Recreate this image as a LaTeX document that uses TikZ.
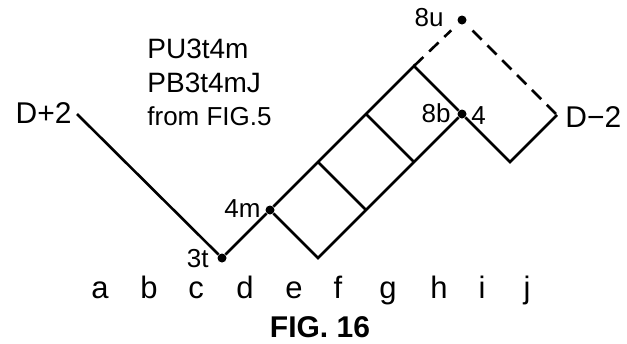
\documentclass[tikz,border=0pt]{standalone}
\usepackage{fontspec}
\setmainfont{Liberation Sans}
\usetikzlibrary{positioning,calc}

\begin{document}
\begin{tikzpicture}[x=0.5pt,y=-0.5pt,
  wire/.style={line width=1.3pt},
  dashwire/.style={line width=1.3pt,dash pattern=on 6.5pt off 4pt},
  dot/.style={circle,fill=black,inner sep=0pt,minimum size=4.5pt},
  lbl/.style={font=\fontsize{13}{15}\selectfont,inner sep=0pt},
  side/.style={font=\fontsize{15}{17}\selectfont,inner sep=0pt},
  col/.style={font=\fontsize{15.5}{18}\selectfont,inner sep=0pt,anchor=base}]
  \useasboundingbox (0,0) rectangle (627,343);
  % marked points
  \node[dot] (t3) at (222,258) {};
  \node[dot] (m4) at (270,210) {};
  \node[dot] (b8) at (462,114) {};
  \node[dot] (u8) at (462,20) {};
  \coordinate (start) at (77,114);
  \coordinate (top) at (414,66);
  \coordinate (low) at (318,258);
  \coordinate (valley) at (510,162);
  \coordinate (right) at (557,115);
  % solid path
  \draw[wire] (start) -- (t3) -- (m4) -- (top) -- (b8) -- (valley) -- (right);
  \draw[wire] (m4) -- (low) -- (b8);
  \foreach \k in {1,2}
    \draw[wire] ($(m4)!\k/3!(top)$) -- ($(low)!\k/3!(b8)$);
  % dashed part
  \draw[dashwire,shorten >=5pt] (top) -- (u8);
  \draw[dashwire,shorten <=5pt] (u8) -- (right);
  % labels
  \node[side,anchor=base east] (dplus) at (72,123) {D+2};
  \node[side,anchor=base west] (dminus) at (565,127) {D−2};
  \node[lbl,anchor=base east] (t3lbl) at (209,267) {3t};
  \node[lbl,anchor=base east] (m4lbl) at (261,217) {4m};
  \node[lbl,anchor=base east] (u8lbl) at (444,26) {8u};
  \node[lbl,anchor=base east] (b8lbl) at (451,122) {8b};
  \node[lbl,anchor=base west] (b8four) at (471,124) {4};
  \node[font=\fontsize{14}{16}\selectfont,inner sep=0pt,anchor=base west] (pu) at (147,58) {PU3t4m};
  \node[font=\fontsize{14}{16}\selectfont,inner sep=0pt,anchor=base west] (pb) at (147,92) {PB3t4mJ};
  \node[font=\fontsize{13}{16}\selectfont,inner sep=0pt,anchor=base west] (from) at (147,125) {from FIG.5};
  \foreach \c/\x in {a/100,b/149,c/196,d/245,e/294,f/338,g/388,h/439,i/482,j/527}
    \node[col] (col\c) at (\x,298) {\c};
  \node[font=\fontsize{15}{18}\bfseries\selectfont,inner sep=0pt,anchor=base] (fig) at (320,337) {FIG. 16};
\end{tikzpicture}
\end{document}
